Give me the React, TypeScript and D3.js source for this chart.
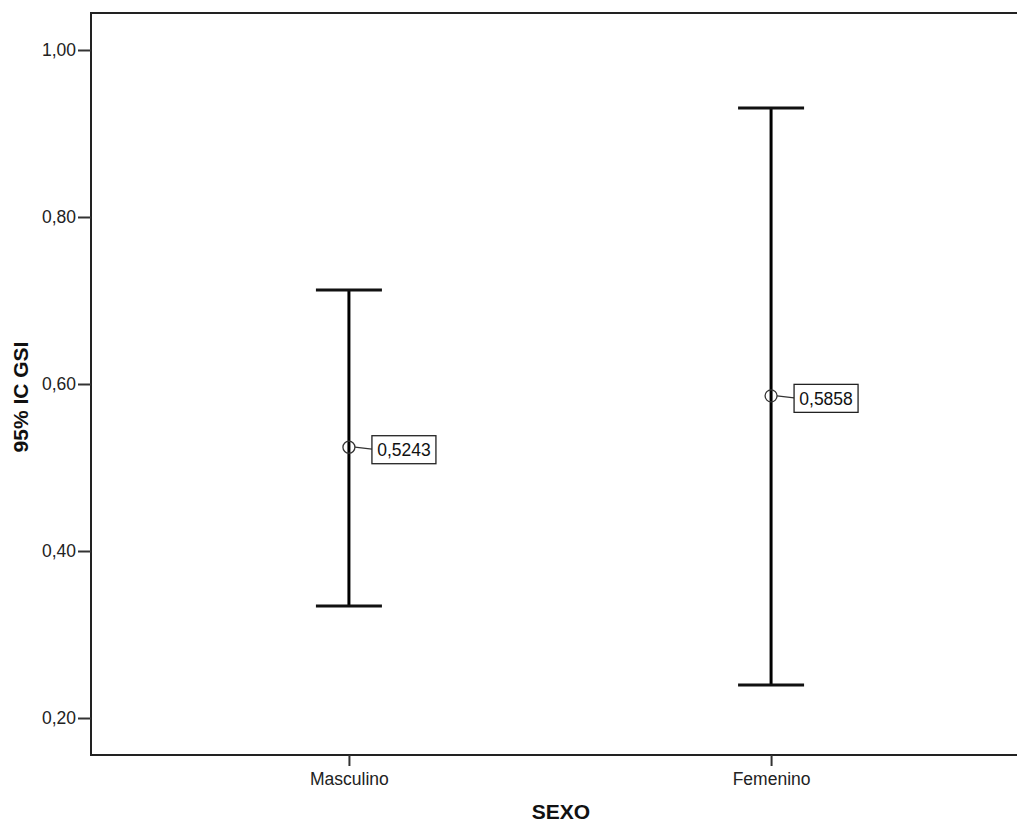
import { useEffect, useRef } from "react";
import * as d3 from "d3";

const categories = ["Masculino", "Femenino"];
const means = [0.5243, 0.5858];
const lower = [0.334, 0.2395];
const upper = [0.7126, 0.9305];
const yTicks = [0.2, 0.4, 0.6, 0.8, 1.0];

export default function App() {
  const ref = useRef<SVGSVGElement>(null);

  useEffect(() => {
    if (!ref.current) return;
    const svg = d3.select(ref.current);
    svg.selectAll("*").remove();

    const left = 91, top = 13, bottom = 755, right = 1017;
    const font = "Arial, 'Liberation Sans', sans-serif";
    const fmt = (v: number) => v.toFixed(2).replace(".", ",");

    const x = d3.scalePoint<string>().domain(categories).range([left, 1029]).padding(0.611);
    const y = d3.scaleLinear().domain([0.1557, 1.0443]).range([bottom, top]);

    const g = svg.append("g");

    // frame
    g.append("path")
      .attr("d", `M${right},${top}H${left}V${bottom}H${right}`)
      .attr("fill", "none")
      .attr("stroke", "#222")
      .attr("stroke-width", 2);

    // y axis
    const yAxis = g.append("g").attr("transform", `translate(${left},0)`)
      .call(d3.axisLeft(y).tickValues(yTicks).tickSize(13).tickPadding(2).tickFormat((d) => fmt(d as number)));
    yAxis.select(".domain").remove();

    // x axis
    const xAxis = g.append("g").attr("transform", `translate(0,${bottom})`)
      .call(d3.axisBottom(x).tickSize(11).tickPadding(7));
    xAxis.select(".domain").remove();

    g.selectAll(".tick line").attr("stroke", "#333").attr("stroke-width", 2);
    g.selectAll(".tick text")
      .attr("fill", "#222")
      .attr("font-family", font)
      .attr("font-size", "17.5px");

    // error bars
    const cap = 33;
    const bars = g.selectAll(".bar").data(categories).enter().append("g");
    bars.append("line")
      .attr("x1", (d) => x(d)!).attr("x2", (d) => x(d)!)
      .attr("y1", (_, i) => y(upper[i])).attr("y2", (_, i) => y(lower[i]))
      .attr("stroke", "#000").attr("stroke-width", 3);
    [upper, lower].forEach((arr) => {
      bars.append("line")
        .attr("x1", (d) => x(d)! - cap).attr("x2", (d) => x(d)! + cap)
        .attr("y1", (_, i) => y(arr[i])).attr("y2", (_, i) => y(arr[i]))
        .attr("stroke", "#111").attr("stroke-width", 3);
    });
    bars.append("circle")
      .attr("cx", (d) => x(d)!).attr("cy", (_, i) => y(means[i]))
      .attr("r", 6).attr("fill", "none").attr("stroke", "#333").attr("stroke-width", 1.3);

    // mean labels
    bars.append("line")
      .attr("x1", (d) => x(d)! + 6).attr("x2", (d) => x(d)! + 23)
      .attr("y1", (_, i) => y(means[i])).attr("y2", (_, i) => y(means[i]) + 2)
      .attr("stroke", "#333").attr("stroke-width", 1.3);
    bars.append("rect")
      .attr("x", (d) => x(d)! + 23).attr("y", (_, i) => y(means[i]) - 11.5)
      .attr("width", 64).attr("height", 28)
      .attr("fill", "#fff").attr("stroke", "#222").attr("stroke-width", 1.3);
    bars.append("text")
      .attr("x", (d) => x(d)! + 55).attr("y", (_, i) => y(means[i]) + 9)
      .attr("text-anchor", "middle")
      .attr("font-family", font)
      .attr("font-size", "17.5px").attr("fill", "#111")
      .text((_, i) => means[i].toFixed(4).replace(".", ","));

    // axis titles
    svg.append("text")
      .attr("transform", `translate(28,${(top + bottom) / 2 + 13}) rotate(-90)`)
      .attr("text-anchor", "middle")
      .attr("font-family", font)
      .attr("font-size", "21px").attr("font-weight", "bold").attr("fill", "#111")
      .text("95% IC GSI");
    svg.append("text")
      .attr("x", 561).attr("y", 819)
      .attr("text-anchor", "middle")
      .attr("font-family", font)
      .attr("font-size", "21px").attr("font-weight", "bold").attr("fill", "#111")
      .text("SEXO");
  }, []);

  return (
    <svg ref={ref} width={1017} height={823}
      style={{ position: "absolute", left: 0, top: 0, background: "#fff" }} />
  );
}
